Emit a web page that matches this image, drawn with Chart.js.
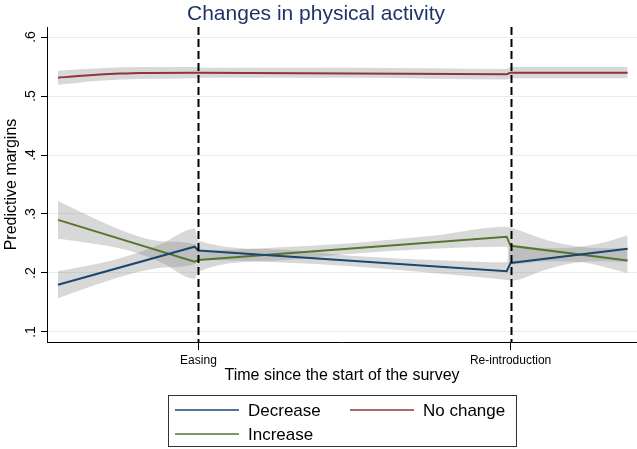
<!DOCTYPE html>
<html>
<head>
<meta charset="utf-8">
<script src="https://cdn.jsdelivr.net/npm/chart.js@4/dist/chart.umd.min.js"></script>
<style>
html,body{margin:0;padding:0;background:#fff;}
#wrap{width:637px;height:449px;}
</style>
</head>
<body>
<div id="wrap"><canvas id="c" width="637" height="449"></canvas></div>
<script>
// ---- data (time in weeks since the start of the survey) ----
const lineX = [0, 8.75, 9, 28.75, 29, 36.5];
const decrease = [0.180, 0.2446, 0.238, 0.203, 0.217, 0.241];
const increase = [0.290, 0.219, 0.222, 0.2615, 0.246, 0.221];

const noChangeX = [0, 1.3, 2.7, 4, 5.3, 8.75, 9, 28.75, 29, 36.5];
const noChange = [0.531, 0.534, 0.5365, 0.538, 0.539, 0.5395, 0.5395, 0.537, 0.5395, 0.5395];

const bandX = [0, 2.2, 4.4, 6.6, 8.75, 9, 14, 19, 24, 28.75, 29, 31.3, 33.6, 35, 36.5];
const decreaseLo = [0.157, 0.178, 0.1965, 0.209, 0.215, 0.222, 0.218, 0.211, 0.200, 0.188, 0.187, 0.206, 0.219, 0.220, 0.218];
const decreaseHi = [0.203, 0.214, 0.2285, 0.249, 0.275, 0.255, 0.240, 0.229, 0.222, 0.218, 0.247, 0.242, 0.245, 0.252, 0.264];
const increaseLo = [0.258, 0.250, 0.239, 0.218, 0.190, 0.202, 0.221, 0.233, 0.241, 0.2445, 0.215, 0.220, 0.218, 0.210, 0.200];
const increaseHi = [0.322, 0.294, 0.269, 0.254, 0.249, 0.238, 0.243, 0.251, 0.263, 0.2785, 0.277, 0.256, 0.244, 0.242, 0.242];

const noChangeBandX = [0, 2.7, 5.3, 8.75, 9, 19, 28.75, 29, 36.5];
const noChangeLo = [0.519, 0.526, 0.529, 0.530, 0.531, 0.531, 0.528, 0.530, 0.530];
const noChangeHi = [0.543, 0.547, 0.549, 0.549, 0.548, 0.548, 0.546, 0.549, 0.549];

const eventX = [9, 29];
const eventLabels = ['Easing', 'Re-introduction'];
const yTicks = [0.1, 0.2, 0.3, 0.4, 0.5, 0.6];
const yTickLabels = ['.1', '.2', '.3', '.4', '.5', '.6'];
const seriesNames = ['Decrease', 'No change', 'Increase'];

// ---- styling ----
const FONT = '"Liberation Sans", Arial, sans-serif';
const COL = { Decrease: '#1a476f', 'No change': '#90353b', Increase: '#55752f' };
const BAND = 'rgba(135,135,135,0.32)';

const pts = (xs, ys) => xs.map((x, i) => ({ x: x, y: ys[i] }));

function bandPair(xs, lo, hi) {
  return [
    { data: pts(xs, lo), borderWidth: 0, pointRadius: 0, fill: false, order: 2, cubicInterpolationMode: 'monotone', borderColor: 'rgba(0,0,0,0)' },
    { data: pts(xs, hi), borderWidth: 0, pointRadius: 0, fill: '-1', backgroundColor: BAND, order: 2, cubicInterpolationMode: 'monotone', borderColor: 'rgba(0,0,0,0)' }
  ];
}

const datasets = [
  ...bandPair(bandX, decreaseLo, decreaseHi),
  ...bandPair(noChangeBandX, noChangeLo, noChangeHi),
  ...bandPair(bandX, increaseLo, increaseHi),
  { label: 'Decrease', data: pts(lineX, decrease), borderColor: COL['Decrease'], borderWidth: 2, pointRadius: 0, fill: false, order: 1 },
  { label: 'No change', data: pts(noChangeX, noChange), borderColor: COL['No change'], borderWidth: 2, pointRadius: 0, fill: false, order: 1, cubicInterpolationMode: 'monotone' },
  { label: 'Increase', data: pts(lineX, increase), borderColor: COL['Increase'], borderWidth: 2, pointRadius: 0, fill: false, order: 1 }
];

const decor = {
  id: 'decor',
  afterDatasetsDraw(chart) {
    const ctx = chart.ctx, a = chart.chartArea, xs = chart.scales.x;
    ctx.save();
    ctx.strokeStyle = '#000';
    ctx.lineWidth = 2;
    ctx.setLineDash([8, 4]);
    eventX.forEach(v => {
      const px = Math.round(xs.getPixelForValue(v)) + 0.5;
      ctx.beginPath(); ctx.moveTo(px, a.top); ctx.lineTo(px, a.bottom); ctx.stroke();
    });
    ctx.restore();
  },
  afterDraw(chart) {
    const ctx = chart.ctx, a = chart.chartArea, xs = chart.scales.x, ys = chart.scales.y;
    ctx.save();
    // title
    ctx.fillStyle = '#1f3466';
    ctx.font = '21px ' + FONT;
    ctx.textAlign = 'center'; ctx.textBaseline = 'alphabetic';
    ctx.fillText('Changes in physical activity', 316, 20);
    // y tick labels (rotated)
    ctx.fillStyle = '#000';
    ctx.font = '14px ' + FONT;
    yTicks.forEach((v, i) => {
      ctx.save();
      ctx.translate(35, ys.getPixelForValue(v));
      ctx.rotate(-Math.PI / 2);
      ctx.textAlign = 'center';
      ctx.fillText(yTickLabels[i], 0, 0);
      ctx.restore();
    });
    // y title
    ctx.save();
    ctx.font = '16px ' + FONT;
    ctx.translate(16, (a.top + a.bottom) / 2);
    ctx.rotate(-Math.PI / 2);
    ctx.textAlign = 'center';
    ctx.fillText('Predictive margins', 0, 0);
    ctx.restore();
    // x tick labels
    ctx.font = '12px ' + FONT;
    ctx.textAlign = 'center';
    eventX.forEach((v, i) => ctx.fillText(eventLabels[i], xs.getPixelForValue(v), 364));
    // x title
    ctx.font = '16px ' + FONT;
    ctx.fillText('Time since the start of the survey', 342, 380);
    // legend
    ctx.strokeStyle = '#333';
    ctx.lineWidth = 1;
    ctx.strokeRect(168.5, 395.5, 348, 51);
    const items = [
      { name: seriesNames[0], x: 175, y: 410 },
      { name: seriesNames[1], x: 350, y: 410 },
      { name: seriesNames[2], x: 175, y: 434 }
    ];
    ctx.font = '17px ' + FONT;
    ctx.textAlign = 'left';
    items.forEach(it => {
      ctx.strokeStyle = COL[it.name];
      ctx.lineWidth = 1.7;
      ctx.beginPath(); ctx.moveTo(it.x, it.y); ctx.lineTo(it.x + 64, it.y); ctx.stroke();
      ctx.fillStyle = '#000';
      ctx.fillText(it.name, it.x + 73, it.y + 6);
    });
    ctx.restore();
  }
};

new Chart(document.getElementById('c'), {
  type: 'line',
  data: { datasets: datasets },
  options: {
    responsive: false,
    animation: false,
    devicePixelRatio: 1,
    layout: { padding: { top: 27, left: 0, right: 0, bottom: 0 } },
    plugins: { legend: { display: false }, tooltip: { enabled: false }, title: { display: false } },
    scales: {
      x: {
        type: 'linear', min: -0.705, max: 37.1,
        afterBuildTicks: s => { s.ticks = eventX.map(v => ({ value: v })); },
        afterFit: s => { s.height = 107; },
        ticks: { display: false },
        grid: { drawOnChartArea: false, drawTicks: true, tickLength: 8, tickColor: '#000', tickWidth: 1 },
        border: { display: true, color: '#000', width: 1 }
      },
      y: {
        type: 'linear', min: 0.083, max: 0.617,
        afterBuildTicks: s => { s.ticks = yTicks.map(v => ({ value: v })); },
        afterFit: s => { s.width = 47; },
        ticks: { display: false },
        grid: { color: '#e3eef0', lineWidth: 1, drawTicks: true, tickLength: 6, tickColor: '#000', tickWidth: 1 },
        border: { display: true, color: '#000', width: 1 }
      }
    }
  },
  plugins: [decor]
});
</script>
</body>
</html>
